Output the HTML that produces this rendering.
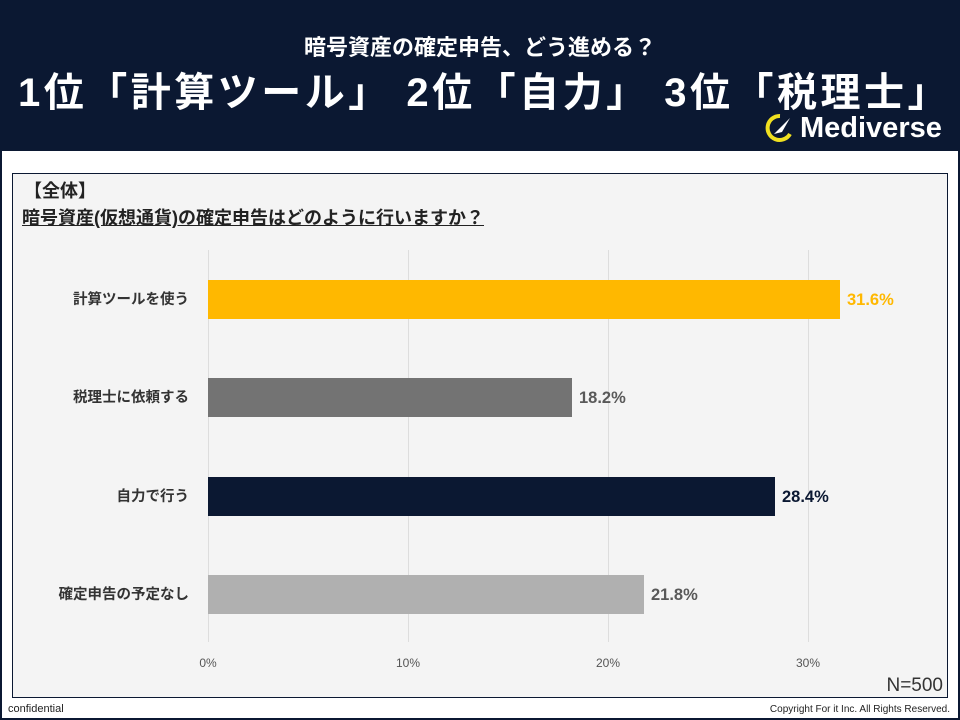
<!DOCTYPE html>
<html><head><meta charset="utf-8"><style>
body{margin:0;width:960px;height:720px;position:relative;overflow:hidden;background:#0b1832;font-family:"Liberation Sans","Noto Sans CJK JP",sans-serif}
.t{position:absolute;white-space:nowrap}
</style></head><body>
<div class="t" style="left:0;width:960px;top:30px;text-align:center;color:#fff;font-weight:bold;font-size:22px;">暗号資産の確定申告、どう進める？</div>
<div class="t" style="left:18px;top:60px;color:#fff;font-weight:bold;font-size:40px;letter-spacing:3.5px">1位「計算ツール」 2位「自力」 3位「税理士」</div>
<svg class="t" style="left:760px;top:112px" width="36" height="32" viewBox="0 0 36 32"><path d="M20 4 A12 12 0 1 0 30 22" fill="none" stroke="#f0e020" stroke-width="4"/><path d="M14 22 L30 6 L22 20 Z" fill="#fff"/></svg>
<div class="t" style="left:800px;top:112px;color:#fff;font-weight:bold;font-size:29px">Mediverse</div>
<div style="position:absolute;left:2px;top:151px;width:956px;height:567px;background:#fff"></div>
<div style="position:absolute;left:12px;top:173px;width:934px;height:523px;background:#f4f4f4;border:1px solid #0b1832"></div>
<div class="t" style="left:24px;top:177px;font-weight:bold;font-size:18px;color:#222">【全体】</div>
<div class="t" style="left:22px;top:204px;font-weight:bold;font-size:18px;color:#222;text-decoration:underline">暗号資産(仮想通貨)の確定申告はどのように行いますか？</div>
<svg class="t" style="left:0;top:0" width="960" height="720">
<g stroke="#ddd" stroke-width="1"><line x1="208.5" y1="250" x2="208.5" y2="642"/><line x1="408.5" y1="250" x2="408.5" y2="642"/><line x1="608.5" y1="250" x2="608.5" y2="642"/><line x1="808.5" y1="250" x2="808.5" y2="642"/></g>
<rect x="208" y="280" width="632" height="39" fill="#ffb800"/>
<rect x="208" y="378" width="364" height="39" fill="#737373"/>
<rect x="208" y="477" width="567" height="39" fill="#0b1832"/>
<rect x="208" y="575" width="436" height="39" fill="#b0b0b0"/>
<g font-size="14.5" font-weight="bold" fill="#333" text-anchor="end" font-family="Liberation Sans,Noto Sans CJK JP,sans-serif">
<text x="189" y="304">計算ツールを使う</text><text x="189" y="402">税理士に依頼する</text><text x="189" y="501">自力で行う</text><text x="189" y="599">確定申告の予定なし</text></g>
<g font-size="16.5" font-weight="bold" font-family="Liberation Sans,sans-serif">
<text x="847" y="305" fill="#ffb800">31.6%</text><text x="579" y="403" fill="#595959">18.2%</text><text x="782" y="502" fill="#0b1832">28.4%</text><text x="651" y="600" fill="#595959">21.8%</text></g>
<g font-size="12" fill="#555" text-anchor="middle" font-family="Liberation Sans,sans-serif">
<text x="208" y="667">0%</text><text x="408" y="667">10%</text><text x="608" y="667">20%</text><text x="808" y="667">30%</text></g>
<text x="943" y="691" font-size="19" fill="#333" text-anchor="end" font-family="Liberation Sans,sans-serif">N=500</text>
<text x="8" y="712" font-size="11" fill="#222" font-family="Liberation Sans,sans-serif">confidential</text>
<text x="950" y="712" font-size="10" fill="#222" text-anchor="end" font-family="Liberation Sans,sans-serif">Copyright For it Inc. All Rights Reserved.</text>
</svg>
</body></html>
